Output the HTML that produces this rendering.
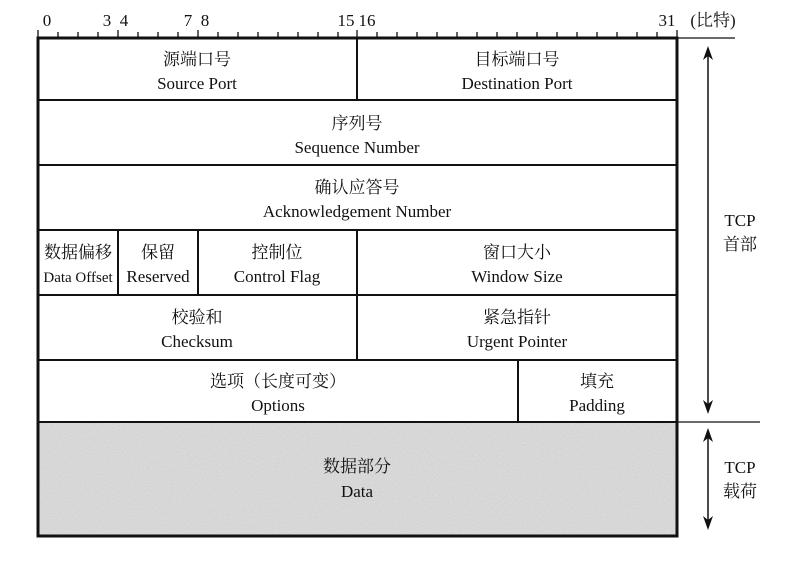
<!DOCTYPE html>
<html><head><meta charset="utf-8"><style>
body{margin:0;background:#fff;}
svg text{font-family:"Liberation Serif","Noto Serif CJK SC","Noto Sans CJK SC",serif;font-size:17px;fill:#111;text-anchor:middle;}
</style></head><body>
<svg width="800" height="559" viewBox="0 0 800 559" xmlns="http://www.w3.org/2000/svg">
<defs>
<filter id="n" x="0" y="0" width="100%" height="100%">
<feTurbulence type="fractalNoise" baseFrequency="0.9" numOctaves="2" seed="3"/>
<feColorMatrix type="matrix" values="0 0 0 0 0.5  0 0 0 0 0.5  0 0 0 0 0.5  0 0 0 -1.6 1.1"/>
</filter>
</defs>
<rect x="38" y="422" width="639" height="114" fill="#dcdcdc"/>
<rect x="38" y="422" width="639" height="114" filter="url(#n)" opacity="0.5"/>
<g stroke="#111" fill="none">
<rect x="38" y="38" width="639" height="498" stroke-width="3"/>
<line x1="677" y1="38" x2="735" y2="38" stroke-width="1.2"/>
<line x1="677" y1="422" x2="760" y2="422" stroke-width="1.2"/>
<g stroke-width="2">
<line x1="38" y1="100" x2="677" y2="100"/>
<line x1="38" y1="165" x2="677" y2="165"/>
<line x1="38" y1="230" x2="677" y2="230"/>
<line x1="38" y1="295" x2="677" y2="295"/>
<line x1="38" y1="360" x2="677" y2="360"/>
<line x1="38" y1="422" x2="677" y2="422"/>
<line x1="357" y1="38" x2="357" y2="100"/>
<line x1="118" y1="230" x2="118" y2="295"/>
<line x1="198" y1="230" x2="198" y2="295"/>
<line x1="357" y1="230" x2="357" y2="360"/>
<line x1="518" y1="360" x2="518" y2="422"/>
</g>
<g stroke-width="1.3">
<path d="M38,30v8 M58,32v6 M78,32v6 M98,32v6 M118,30v8 M138,32v6 M158,32v6 M178,32v6 M198,30v8 M218,32v6 M238,32v6 M258,32v6 M278,32v6 M298,32v6 M318,32v6 M338,32v6 M357,30v8 M377,32v6 M397,32v6 M417,32v6 M437,32v6 M457,32v6 M477,32v6 M497,32v6 M517,32v6 M537,32v6 M557,32v6 M577,32v6 M597,32v6 M617,32v6 M637,32v6 M657,32v6 M677,30v8"/>
</g>
<line x1="708" y1="52" x2="708" y2="408" stroke-width="1.5"/>
<line x1="708" y1="438" x2="708" y2="524" stroke-width="1.5"/>
</g>
<g fill="#111">
<path d="M708,46 L703,60 L708,56 L713,60 Z"/>
<path d="M708,414 L703,400 L708,404 L713,400 Z"/>
<path d="M708,428 L703,442 L708,438 L713,442 Z"/>
<path d="M708,530 L703,516 L708,520 L713,516 Z"/>
</g>
<g style="font-size:16px">
<text x="47" y="26">0</text><text x="107" y="26">3</text><text x="124" y="26">4</text>
<text x="188" y="26">7</text><text x="205" y="26">8</text>
<text x="346" y="26">15</text><text x="367" y="26">16</text>
<text x="667" y="26">31</text><text x="713" y="26">(比特)</text>
</g>
<text x="197" y="65">源端口号</text><text x="197" y="89">Source Port</text>
<text x="517" y="65">目标端口号</text><text x="517" y="89">Destination Port</text>
<text x="357" y="129">序列号</text><text x="357" y="153">Sequence Number</text>
<text x="357" y="193">确认应答号</text><text x="357" y="217">Acknowledgement Number</text>
<text x="78" y="258">数据偏移</text><text x="78" y="282" style="font-size:15px">Data Offset</text>
<text x="158" y="258">保留</text><text x="158" y="282">Reserved</text>
<text x="277" y="258">控制位</text><text x="277" y="282">Control Flag</text>
<text x="517" y="258">窗口大小</text><text x="517" y="282">Window Size</text>
<text x="197" y="323">校验和</text><text x="197" y="347">Checksum</text>
<text x="517" y="323">紧急指针</text><text x="517" y="347">Urgent Pointer</text>
<text x="278" y="387">选项（长度可变）</text><text x="278" y="411">Options</text>
<text x="597" y="387">填充</text><text x="597" y="411">Padding</text>
<text x="357" y="472">数据部分</text><text x="357" y="497">Data</text>
<text x="740" y="226">TCP</text><text x="740" y="250">首部</text>
<text x="740" y="473">TCP</text><text x="740" y="497">载荷</text>
</svg>
</body></html>
